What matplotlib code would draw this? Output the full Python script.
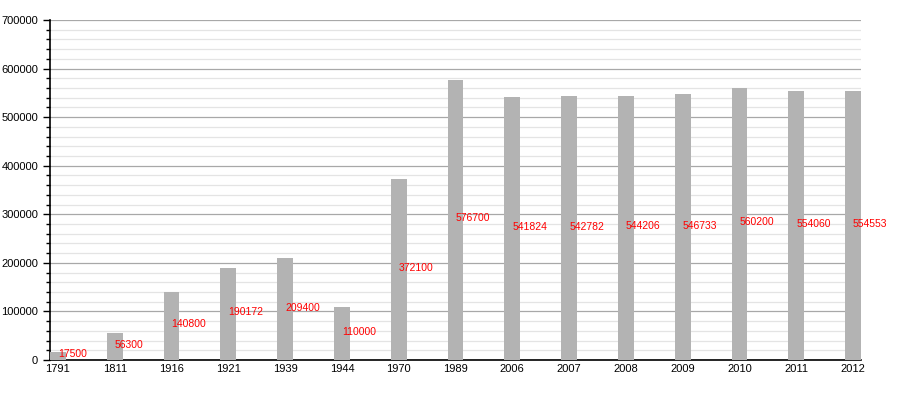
import matplotlib
matplotlib.use("Agg")
import matplotlib.pyplot as plt
from matplotlib.ticker import MultipleLocator

plt.rcParams['font.family'] = ['Liberation Sans', 'DejaVu Sans']

years = ["1791", "1811", "1916", "1921", "1939", "1944", "1970", "1989",
         "2006", "2007", "2008", "2009", "2010", "2011", "2012"]
population = [17500, 56300, 140800, 190172, 209400, 110000, 372100, 576700,
              541824, 542782, 544206, 546733, 560200, 554060, 554553]

fig = plt.figure(figsize=(9, 4), dpi=100)
ax = fig.add_axes([50/900, 40/400, 811/900, 340/400])

x = list(range(len(years)))
w = 0.28
ax.bar(x, population, width=w, color="#b3b3b3", zorder=3)

for xi, v in zip(x, population):
    ax.text(xi, v/2 + 3000, str(v), color="#ff0000", fontsize=7.5,
            ha="left", va="center", zorder=4)

ax.set_xlim(-w/2, len(years) - 1 + w/2)
ax.set_ylim(0, 700000)
ax.set_xticks(x)
ax.set_xticklabels(years, fontsize=8)
ax.yaxis.set_major_locator(MultipleLocator(100000))
ax.yaxis.set_minor_locator(MultipleLocator(20000))
ax.yaxis.set_major_formatter(matplotlib.ticker.FuncFormatter(lambda v, p: f"{int(v)}"))
ax.tick_params(axis="y", labelsize=8, length=5, width=1)
ax.tick_params(axis="y", which="minor", length=3, width=1)
ax.tick_params(axis="x", length=0, pad=3)

ax.grid(axis="y", which="major", color="#a8a8a8", linewidth=0.9, zorder=1)
ax.grid(axis="y", which="minor", color="#e4e4e4", linewidth=0.9, zorder=0)

for s in ["top", "right"]:
    ax.spines[s].set_visible(False)
ax.spines["left"].set_linewidth(1.2)
ax.spines["bottom"].set_linewidth(1.2)

fig.savefig("out.png", dpi=100)
